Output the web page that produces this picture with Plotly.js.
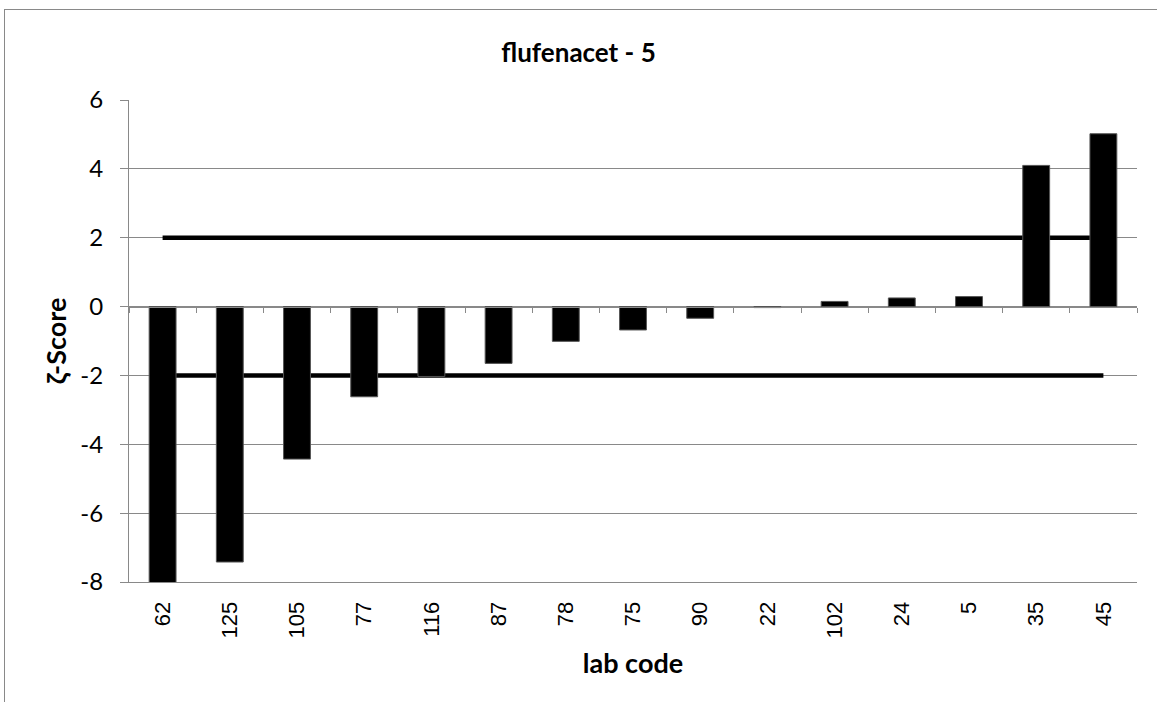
<!DOCTYPE html>
<html>
<head>
<meta charset="utf-8">
<script src="https://cdn.plot.ly/plotly-3.0.1.min.js"></script>
<style>
html,body{margin:0;padding:0;background:#fff;}
#wrap{position:relative;width:1157px;height:702px;overflow:hidden;}
#chart{width:1157px;height:702px;}
#frame{position:absolute;left:4px;top:9px;width:1160px;height:700px;border-left:1px solid #898989;border-top:1px solid #898989;pointer-events:none;}
</style>
</head>
<body>
<div id="wrap"><div id="chart"></div><div id="frame"></div></div>
<script>
const labCodes = ["62","125","105","77","116","87","78","75","90","22","102","24","5","35","45"];
const zScores = [-8.1,-7.42,-4.43,-2.62,-2.03,-1.65,-1.01,-0.68,-0.34,-0.03,0.15,0.25,0.29,4.10,5.02];
const limits = [2,-2];
const yTickVals = [-8,-6,-4,-2,0,2,4,6];
const yTickText = ["-8","-6","-4","-2","0","2","4","6"];

const gray = '#898989';
const traces = [];
limits.forEach(v => {
  traces.push({
    type:'scatter', mode:'lines',
    x:[labCodes[0], labCodes[labCodes.length-1]], y:[v, v],
    xaxis:'x', yaxis:'y',
    line:{color:'#000', width:4.5},
    hoverinfo:'skip', showlegend:false
  });
});
traces.push({
  type:'bar', x:labCodes, y:zScores, xaxis:'x2', yaxis:'y',
  marker:{color:'#000', line:{color:'#555', width:1}},
  showlegend:false
});

const layout = {
  width:1157, height:702,
  margin:{l:129, r:20, t:100, b:120},
  paper_bgcolor:'#fff', plot_bgcolor:'#fff',
  bargap:0.6,
  title:{text:'<b>flufenacet - 5</b>', xref:'container', x:0.5, xanchor:'center', y:0.925, yanchor:'middle',
         font:{family:'Lato, "Open Sans", sans-serif', size:26, color:'#000'}},
  xaxis:{type:'category', categoryorder:'array', categoryarray:labCodes, range:[-0.5,14.5],
         tickangle:-90, showgrid:false, zeroline:false, ticks:'', showline:true, linecolor:gray, linewidth:1,
         tickfont:{family:'"Liberation Sans", Arial, sans-serif', size:22, color:'#000'},
         ticklabelstandoff:10,
         title:{text:'<b>lab code</b>', standoff:16, font:{family:'Lato, "Open Sans", sans-serif', size:27, color:'#000'}}},
  xaxis2:{type:'category', categoryorder:'array', categoryarray:labCodes, range:[-0.5,14.5],
          overlaying:'x', anchor:'free', position:8/14, side:'bottom',
          showgrid:false, zeroline:false, showticklabels:false, ticks:'outside', tickson:'boundaries',
          ticklen:5, tickcolor:gray, tickwidth:1, showline:true, linecolor:gray, linewidth:1},
  yaxis:{range:[-8,6], tickmode:'array', tickvals:yTickVals, ticktext:yTickText,
         showgrid:true, gridcolor:gray, gridwidth:1, zeroline:false,
         showline:true, linecolor:gray, linewidth:1, ticks:'outside', ticklen:8, tickcolor:gray,
         tickfont:{family:'Lato, "Open Sans", sans-serif', size:24, color:'#000'},
         ticklabelstandoff:12,
         title:{text:'<b>ζ-Score</b>', standoff:5, font:{family:'Lato, "Open Sans", sans-serif', size:27, color:'#000'}}},
  showlegend:false
};
Plotly.newPlot('chart', traces, layout, {displayModeBar:false, staticPlot:true});
</script>
</body>
</html>
